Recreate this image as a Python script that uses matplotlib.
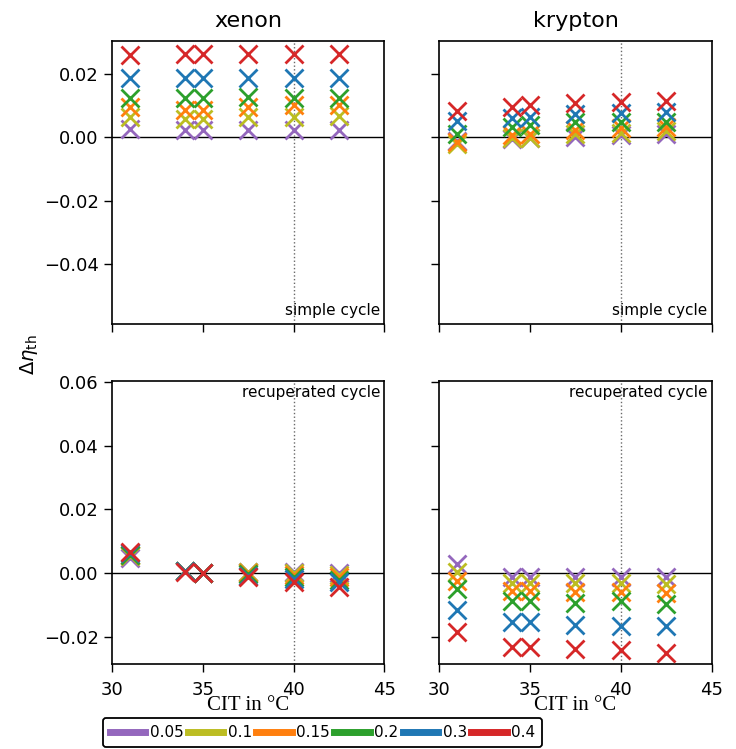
import matplotlib
matplotlib.use('Agg')
import matplotlib.pyplot as plt
from matplotlib.lines import Line2D
from matplotlib.ticker import FuncFormatter

# compressor inlet temperature in degC
cit = [31, 34, 35, 37.5, 40, 42.5]
fractions = ['0.05', '0.1', '0.15', '0.2', '0.3', '0.4']
colors = ['tab:purple', 'tab:olive', 'tab:orange', 'tab:green', 'tab:blue', 'tab:red']

# delta eta_th, one row per fraction (same order as fractions)
xenon_simple = [
    [0.0027, 0.0022, 0.0022, 0.0022, 0.0022, 0.0022],
    [0.0062, 0.0056, 0.0056, 0.0062, 0.0062, 0.0066],
    [0.0095, 0.0087, 0.0087, 0.0095, 0.0100, 0.0100],
    [0.0122, 0.0122, 0.0122, 0.0127, 0.0122, 0.0122],
    [0.0187, 0.0187, 0.0187, 0.0187, 0.0187, 0.0187],
    [0.0258, 0.0261, 0.0261, 0.0261, 0.0261, 0.0261],
]
krypton_simple = [
    [-0.0012, -0.0005, -0.0004, 0.0002, 0.0007, 0.0009],
    [-0.0020, -0.0003, -0.0002, 0.0009, 0.0013, 0.0018],
    [-0.0015, 0.0007, 0.0009, 0.0023, 0.0028, 0.0033],
    [0.0010, 0.0033, 0.0039, 0.0047, 0.0049, 0.0049],
    [0.0050, 0.0060, 0.0065, 0.0072, 0.0075, 0.0079],
    [0.0083, 0.0096, 0.0100, 0.0107, 0.0110, 0.0114],
]
xenon_recup = [
    [0.0047, 0.0005, 0.0000, 0.0002, 0.0002, -0.0001],
    [0.0052, 0.0005, 0.0000, 0.0002, -0.0001, -0.0006],
    [0.0055, 0.0005, 0.0000, 0.0001, -0.0005, -0.0014],
    [0.0058, 0.0005, 0.0000, -0.0003, -0.0012, -0.0022],
    [0.0062, 0.0005, 0.0000, -0.0008, -0.0019, -0.0029],
    [0.0065, 0.0004, 0.0000, -0.0014, -0.0029, -0.0045],
]
krypton_recup = [
    [0.0029, -0.0014, -0.0014, -0.0014, -0.0014, -0.0014],
    [0.0004, -0.0030, -0.0030, -0.0030, -0.0030, -0.0035],
    [-0.0024, -0.0056, -0.0056, -0.0060, -0.0060, -0.0062],
    [-0.0049, -0.0088, -0.0088, -0.0094, -0.0088, -0.0099],
    [-0.0115, -0.0155, -0.0155, -0.0163, -0.0166, -0.0168],
    [-0.0187, -0.0234, -0.0234, -0.0239, -0.0243, -0.0251],
]

plt.rcParams['font.family'] = ['DejaVu Sans']

fig, axes = plt.subplots(2, 2, figsize=(7.36, 7.49), dpi=100, sharex=True)
fig.subplots_adjust(left=0.152, right=0.967, bottom=0.1135, top=0.945,
                    wspace=0.2015, hspace=0.2014)

panels = [[xenon_simple, krypton_simple], [xenon_recup, krypton_recup]]
labels = ['simple cycle', 'recuperated cycle']
titles = ['xenon', 'krypton']

fmt = FuncFormatter(lambda v, pos: f'{v:.2f}'.replace('-', '\u2212'))

for r in range(2):
    for c in range(2):
        ax = axes[r, c]
        ax.axhline(0, color='black', lw=1, zorder=1)
        ax.axvline(40, color='dimgray', ls=':', lw=1, zorder=1)
        for vals, col in zip(panels[r][c], colors):
            ax.plot(cit, vals, ls='none', marker='x', ms=13, mew=2,
                    color=col, zorder=3)
        ax.set_xlim(30, 45)
        ax.set_xticks([30, 35, 40, 45])
        ax.tick_params(labelsize=13, length=6, width=1)
        ax.tick_params(axis='x', pad=6)
        for s in ax.spines.values():
            s.set_linewidth(1.2)
        if r == 0:
            ax.set_ylim(-0.0588, 0.0302)
            ax.set_yticks([-0.04, -0.02, 0.0, 0.02])
            ax.set_title(titles[c], fontsize=16, pad=10)
            ax.text(0.985, 0.02, labels[r], transform=ax.transAxes,
                    ha='right', va='bottom', fontsize=11)
        else:
            ax.set_ylim(-0.0286, 0.0603)
            ax.set_yticks([-0.02, 0.0, 0.02, 0.04, 0.06])
            ax.text(0.985, 0.985, labels[r], transform=ax.transAxes,
                    ha='right', va='top', fontsize=11)
            ax.set_xlabel('CIT in °C', family='Liberation Serif',
                          fontsize=15, labelpad=-2)
        if c == 1:
            ax.tick_params(labelleft=False)
        ax.yaxis.set_major_formatter(fmt)

fig.text(0.04, 0.526, r'$\Delta\eta_{\mathrm{th}}$', rotation=90,
         ha='center', va='center', fontsize=14)

handles = [Line2D([], [], color=col, lw=5) for col in colors]
leg = fig.legend(handles, fractions, loc='upper left',
                 bbox_to_anchor=(0.140, 0.0414), borderaxespad=0,
                 ncol=6, fontsize=11, handlelength=2.3, handletextpad=0.3,
                 columnspacing=0.3, borderpad=0.45, framealpha=1,
                 edgecolor='black')
leg.get_frame().set_linewidth(1.3)

fig.savefig('out.png', dpi=100)
